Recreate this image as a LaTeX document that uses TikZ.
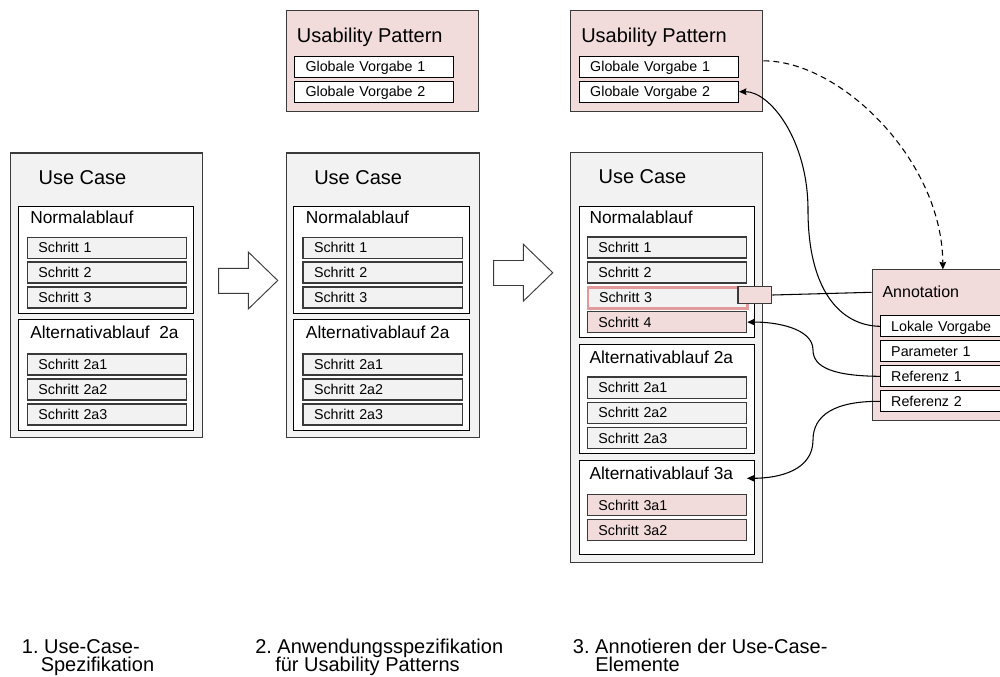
\documentclass[tikz,border=0pt]{standalone}
\usepackage{fontspec}
\setmainfont{Liberation Sans}
\usetikzlibrary{arrows.meta}
\definecolor{ucgray}{HTML}{F2F2F2}
\definecolor{pinkfill}{HTML}{F2DCDB}
\definecolor{pinkline}{HTML}{E39A9A}
\definecolor{edge}{HTML}{3A3A3A}
\begin{document}
\frenchspacing
\begin{tikzpicture}[x=0.75pt,y=-0.75pt,
  wh/.style 2 args={minimum width=#1*0.75pt, minimum height=#2*0.75pt},
  frame/.style={draw=edge, line width=0.8pt, anchor=north west, inner sep=0pt},
  ucbox/.style={frame, fill=ucgray},
  secbox/.style={frame, draw=black, fill=white},
  upbox/.style={frame, fill=pinkfill},
  sbox/.style={draw=edge, line width=1pt, fill=ucgray, anchor=north west,
    minimum width=159.3*0.75pt, minimum height=21*0.75pt,
    inner xsep=11*0.75pt, inner ysep=0pt, text width=137.3*0.75pt, align=left,
    text height=7.7pt, text depth=0pt, font=\fontsize{10.7pt}{12pt}\selectfont},
  gbox/.style={sbox, fill=white, draw=black, line width=0.8pt},
  pbox/.style={sbox, fill=pinkfill},
  abox/.style={gbox, minimum width=140*0.75pt, inner xsep=10.7*0.75pt, text width=118.6*0.75pt},
  bigtitle/.style={anchor=base west, inner sep=0pt, font=\fontsize{15pt}{18pt}\selectfont},
  sectitle/.style={anchor=base west, inner sep=0pt, font=\fontsize{13pt}{15pt}\selectfont},
  anntitle/.style={anchor=base west, inner sep=0pt, font=\fontsize{12pt}{14pt}\selectfont},
  caption/.style={anchor=base west, inner sep=0pt, font=\fontsize{15pt}{18pt}\selectfont},
  blockarrow/.style={draw=edge, line width=0.7pt, fill=white, line join=miter},
  conn/.style={draw=black, line width=0.8pt, -{Stealth[length=5.5pt,width=5pt,inset=0.6pt]}},
]
\useasboundingbox (0,0) rectangle (1000,677);
\fill[white] (0,0) rectangle (1000,677);
\clip (0,0) rectangle (1000,677);

% ---------- step 1: use case specification ----------
\node[ucbox, wh={192}{284.5}] (uc1) at (10,152.5) {};
\node[bigtitle] (uc1t) at (38.3,184.3) {Use Case};
\node[secbox, wh={175.3}{107.3}] (na1) at (17.7,205.7) {};
\node[sectitle] (na1t) at (30,224) {Normalablauf};
\node[sbox] (s11) at (26.7,236.7) {Schritt 1};
\node[sbox] (s12) at (26.7,261.5) {Schritt 2};
\node[sbox] (s13) at (26.7,286.3) {Schritt 3};
\node[secbox, wh={175.3}{110.7}] (aa1) at (17.7,319.3) {};
\node[sectitle] (aa1t) at (30,338.7) {Alternativablauf\ \ 2a};
\node[sbox] (s1a1) at (26.7,353.3) {Schritt 2a1};
\node[sbox] (s1a2) at (26.7,378.2) {Schritt 2a2};
\node[sbox] (s1a3) at (26.7,403.2) {Schritt 2a3};

% block arrow 1 -> 2
\draw[blockarrow] (218.7,268.3) -- (248.3,268.3) -- (248.3,252) -- (277.7,280.5)
  -- (248.3,309) -- (248.3,293.3) -- (218.7,293.3) -- cycle;

% ---------- step 2: usability pattern + use case ----------
\node[upbox, wh={192.6}{100.7}] (up2) at (285.7,10) {};
\node[bigtitle] (up2t) at (296.7,42.5) {Usability Pattern};
\node[gbox] (gv21) at (294,55.7) {Globale Vorgabe 1};
\node[gbox] (gv22) at (294,80.7) {Globale Vorgabe 2};
\begin{scope}[shift={(275.7,0)}]
\node[ucbox, wh={193}{284.5}] (uc2) at (10,152.5) {};
\node[bigtitle] (uc2t) at (38.3,184.3) {Use Case};
\node[secbox, wh={175.3}{107.3}] (na2) at (17.7,205.7) {};
\node[sectitle] (na2t) at (30,224) {Normalablauf};
\node[sbox] (s21) at (26.7,236.7) {Schritt 1};
\node[sbox] (s22) at (26.7,261.5) {Schritt 2};
\node[sbox] (s23) at (26.7,286.3) {Schritt 3};
\node[secbox, wh={175.3}{110.7}] (aa2) at (17.7,319.3) {};
\node[sectitle] (aa2t) at (30,338.7) {Alternativablauf 2a};
\node[sbox] (s2a1) at (26.7,353.3) {Schritt 2a1};
\node[sbox] (s2a2) at (26.7,378.2) {Schritt 2a2};
\node[sbox] (s2a3) at (26.7,403.2) {Schritt 2a3};
\end{scope}

% block arrow 2 -> 3
\begin{scope}[shift={(275,-7.8)}]
\draw[blockarrow] (218.7,268.3) -- (248.3,268.3) -- (248.3,252) -- (277.7,280.5)
  -- (248.3,309) -- (248.3,293.3) -- (218.7,293.3) -- cycle;
\end{scope}

% ---------- step 3: annotated use case ----------
\node[upbox, wh={192.3}{100.7}] (up3) at (570,10) {};
\node[bigtitle] (up3t) at (581,42.5) {Usability Pattern};
\node[gbox] (gv31) at (578.7,55.7) {Globale Vorgabe 1};
\node[gbox] (gv32) at (578.7,80.7) {Globale Vorgabe 2};

\node[ucbox, wh={192.3}{410}] (uc3) at (570,152.3) {};
\node[bigtitle] (uc3t) at (598.3,183.8) {Use Case};
\node[secbox, wh={175.6}{131}] (na3) at (578.7,205.7) {};
\node[sectitle] (na3t) at (589.3,224) {Normalablauf};
\node[sbox] (s31) at (586.7,236.5) {Schritt 1};
\node[sbox] (s32) at (586.7,261.3) {Schritt 2};
\node[sbox, draw=pinkline, line width=2pt] (s33) at (586.7,286) {Schritt 3};
\node[pbox] (s34) at (586.7,311) {Schritt 4};
\node[secbox, wh={175.6}{109.6}] (aa3) at (578.7,343.7) {};
\node[sectitle] (aa3t) at (589.3,363.1) {Alternativablauf 2a};
\node[sbox] (s3a1) at (586.7,376.5) {Schritt 2a1};
\node[sbox] (s3a2) at (586.7,401.5) {Schritt 2a2};
\node[sbox] (s3a3) at (586.7,426.8) {Schritt 2a3};
\node[secbox, wh={175.6}{93.4}] (ab3) at (578.7,460.3) {};
\node[sectitle] (ab3t) at (589.3,479.7) {Alternativablauf 3a};
\node[pbox] (s3b1) at (586.7,494) {Schritt 3a1};
\node[pbox] (s3b2) at (586.7,518.8) {Schritt 3a2};

% annotation marker on step 3
\node[frame, fill=pinkfill, line width=1pt, wh={33.7}{16.7}] (mark) at (737.3,286) {};

% annotation
\node[upbox, wh={141.2}{150.7}] (ann) at (871.7,269.3) {};
\node[anntitle] (annt) at (882.3,297.5) {Annotation};
\node[abox] (lv) at (880,315.3) {Lokale Vorgabe};
\node[abox] (p1) at (880,340.3) {Parameter 1};
\node[abox] (r1) at (880,365.3) {Referenz 1};
\node[abox] (r2) at (880,390.3) {Referenz 2};

% connectors
\coordinate (annin) at (871.7,292.3);
\coordinate (a3in) at (747,478.3);
\draw[line width=0.8pt] (mark.east) -- (annin);
\draw[conn] (lv.west) .. controls (840,325.6) and (808,290) .. (808,210)
  .. controls (808,140) and (770,91.5) .. (gv32.east);
\draw[conn, dash pattern=on 4.5pt off 3pt] (up3.east) .. controls (840,60.3) and (942.3,160) .. (ann.north);
\draw[conn] (r1.west) .. controls (835,376) and (813,368) .. (813,350)
  .. controls (813,328) and (775,321.8) .. (s34.east);
\draw[conn] (r2.west) .. controls (835,401) and (813,415) .. (813,440)
  .. controls (813,470) and (780,478.3) .. (a3in);

% captions
\node[caption] (c1a) at (21.7,653) {1. Use-Case-};
\node[caption] (c1b) at (40.5,671.5) {Spezifikation};
\node[caption] (c2a) at (255,653) {2. Anwendungsspezifikation};
\node[caption] (c2b) at (275,671.5) {für Usability Patterns};
\node[caption] (c3a) at (572.7,653) {3. Annotieren der Use-Case-};
\node[caption] (c3b) at (595,671.5) {Elemente};
\end{tikzpicture}
\end{document}
